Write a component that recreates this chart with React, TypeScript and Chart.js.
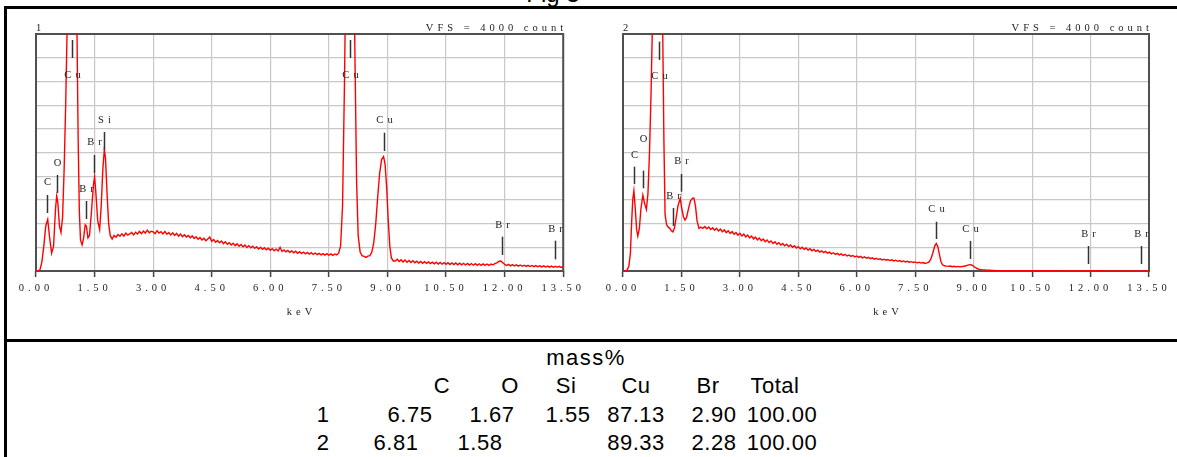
import React, { useEffect, useRef } from "react";
import { Chart, registerables } from "chart.js";
Chart.register(...registerables);

// ---------- data ----------
const xTicks = [0, 1.5, 3, 4.5, 6, 7.5, 9, 10.5, 12, 13.5];
const axisTitle = "keV";
const vfsText = "VFS = 4000 count";
const yMax = 4000;
const yStep = 400;

// spectrum 1: [keV, count]
const spectrum1: number[][] = [
  [0.0, 0], [0.05, 0], [0.1, 20], [0.15, 150], [0.2, 420], [0.25, 760], [0.3, 870], [0.35, 560], [0.4, 300],
  [0.45, 420], [0.5, 1050], [0.53, 1264], [0.56, 1150], [0.6, 760], [0.64, 650], [0.68, 900], [0.72, 1700],
  [0.76, 2800], [0.8, 4200], [0.85, 7000], [0.93, 9500], [1.0, 6500], [1.05, 4000], [1.08, 2200], [1.11, 1000],
  [1.14, 520], [1.18, 440], [1.22, 560], [1.26, 780], [1.29, 760], [1.33, 560], [1.37, 600], [1.42, 1000],
  [1.47, 1450], [1.5, 1590], [1.53, 1350], [1.58, 850], [1.63, 700], [1.67, 1100], [1.71, 1700], [1.75, 2050],
  [1.78, 1900], [1.82, 1300], [1.86, 800], [1.9, 600], [1.95, 540], [2.0, 600],
  [2.05, 570], [2.1, 615], [2.15, 585], [2.2, 628], [2.25, 590], [2.3, 640], [2.35, 605], [2.4, 625], [2.45, 650],
  [2.5, 610], [2.55, 655], [2.6, 625], [2.65, 668], [2.7, 630], [2.75, 675], [2.8, 640], [2.85, 690], [2.9, 645],
  [2.95, 672], [3.0, 660], [3.05, 630], [3.1, 680], [3.15, 640], [3.2, 665], [3.25, 625], [3.3, 668], [3.35, 620],
  [3.4, 650], [3.45, 610], [3.5, 645], [3.55, 600], [3.6, 635], [3.65, 590], [3.7, 625], [3.75, 580], [3.8, 612],
  [3.85, 575], [3.9, 600], [3.95, 560], [4.0, 592], [4.05, 548], [4.1, 578], [4.15, 535], [4.2, 565], [4.25, 525],
  [4.3, 552], [4.35, 510], [4.4, 540], [4.45, 575], [4.5, 500], [4.55, 530], [4.6, 485], [4.65, 515], [4.7, 475],
  [4.75, 505], [4.8, 462], [4.85, 492], [4.9, 450], [4.95, 478], [5.0, 440], [5.05, 470], [5.1, 428], [5.15, 458],
  [5.2, 418], [5.25, 448], [5.3, 408], [5.35, 438], [5.4, 398], [5.45, 428], [5.5, 390], [5.55, 418], [5.6, 382],
  [5.65, 410], [5.7, 372], [5.75, 400], [5.8, 365], [5.85, 392], [5.9, 358], [5.95, 385], [6.0, 350], [6.05, 378],
  [6.1, 343], [6.15, 370], [6.2, 338], [6.25, 400], [6.3, 330], [6.35, 356], [6.4, 322], [6.45, 348], [6.5, 315],
  [6.55, 340], [6.6, 308], [6.65, 334], [6.7, 300], [6.75, 326], [6.8, 295], [6.85, 320], [6.9, 290], [6.95, 314],
  [7.0, 285], [7.05, 308], [7.1, 280], [7.15, 303], [7.2, 276], [7.25, 298], [7.3, 272], [7.35, 294], [7.4, 268],
  [7.45, 292], [7.5, 266], [7.55, 290], [7.6, 265], [7.65, 288], [7.7, 272], [7.75, 300],
  [7.8, 420], [7.85, 1100], [7.9, 3200], [7.95, 6000], [8.04, 9000], [8.12, 6000], [8.17, 3500], [8.21, 1500],
  [8.25, 600], [8.3, 320], [8.35, 260], [8.4, 245], [8.45, 230], [8.5, 250], [8.55, 260], [8.6, 320], [8.65, 480],
  [8.7, 800], [8.75, 1250], [8.8, 1650], [8.85, 1880], [8.9, 1930], [8.94, 1800], [8.98, 1400], [9.02, 850],
  [9.06, 420], [9.1, 220], [9.15, 170],
  [9.2, 170], [9.25, 198], [9.3, 160], [9.35, 190], [9.4, 152], [9.45, 184], [9.5, 148], [9.55, 178], [9.6, 142],
  [9.65, 172], [9.7, 138], [9.75, 166], [9.8, 135], [9.85, 162], [9.9, 130], [9.95, 158], [10.0, 128], [10.05, 154],
  [10.1, 125], [10.15, 150], [10.2, 120], [10.25, 148], [10.3, 118], [10.35, 144], [10.4, 115], [10.45, 142],
  [10.5, 112], [10.55, 140], [10.6, 110], [10.65, 137], [10.7, 108], [10.75, 135], [10.8, 106], [10.85, 133],
  [10.9, 104], [10.95, 130], [11.0, 102], [11.05, 128], [11.1, 100], [11.15, 126], [11.2, 98], [11.25, 124],
  [11.3, 97], [11.35, 122], [11.4, 96], [11.45, 120], [11.5, 95], [11.55, 118], [11.6, 96], [11.65, 117],
  [11.7, 104], [11.75, 125], [11.8, 138], [11.85, 160], [11.9, 168], [11.95, 142], [12.0, 110], [12.05, 92],
  [12.1, 112], [12.15, 88], [12.2, 108], [12.25, 85], [12.3, 104], [12.35, 82], [12.4, 101], [12.45, 80],
  [12.5, 98], [12.55, 77], [12.6, 95], [12.65, 75], [12.7, 93], [12.75, 73], [12.8, 90], [12.85, 71], [12.9, 88],
  [12.95, 69], [13.0, 86], [13.05, 67], [13.1, 84], [13.15, 65], [13.2, 82], [13.25, 63], [13.3, 80], [13.35, 62],
  [13.4, 78], [13.45, 60], [13.5, 72],
];

// spectrum 2: [keV, count]
const spectrum2: number[][] = [
  [0.0, 0], [0.05, 0], [0.1, 10], [0.15, 80], [0.19, 300], [0.22, 800], [0.25, 1200], [0.28, 1354], [0.31, 1100],
  [0.35, 700], [0.38, 590], [0.42, 720], [0.46, 1050], [0.51, 1280], [0.55, 1150], [0.6, 1040], [0.64, 1300],
  [0.68, 2000], [0.72, 3000], [0.75, 4000], [0.82, 7500], [0.9, 9500], [0.97, 6500], [1.02, 4000], [1.05, 2200],
  [1.08, 950], [1.12, 780], [1.16, 740], [1.2, 720], [1.24, 680], [1.28, 660], [1.32, 720], [1.36, 880],
  [1.41, 1100], [1.47, 1225], [1.51, 1050], [1.55, 920], [1.59, 860], [1.63, 900], [1.68, 1050], [1.73, 1180],
  [1.78, 1225], [1.82, 1230], [1.86, 1100], [1.9, 850], [1.95, 720], [2.0, 740],
  [2.05, 720], [2.1, 752], [2.15, 712], [2.2, 742], [2.25, 700], [2.3, 730], [2.35, 688], [2.4, 720], [2.45, 676],
  [2.5, 708], [2.55, 662], [2.6, 694], [2.65, 648], [2.7, 680], [2.75, 634], [2.8, 664], [2.85, 620], [2.9, 650],
  [2.95, 604], [3.0, 636], [3.05, 590], [3.1, 622], [3.15, 574], [3.2, 606], [3.25, 558], [3.3, 590], [3.35, 542],
  [3.4, 572], [3.45, 526], [3.5, 556], [3.55, 510], [3.6, 540], [3.65, 494], [3.7, 524], [3.75, 480], [3.8, 508],
  [3.85, 464], [3.9, 492], [3.95, 450], [4.0, 478], [4.05, 438], [4.1, 464], [4.15, 424], [4.2, 452], [4.25, 412],
  [4.3, 438], [4.35, 400], [4.4, 426], [4.45, 388], [4.5, 412], [4.55, 376], [4.6, 400], [4.65, 364], [4.7, 388],
  [4.75, 352], [4.8, 376], [4.85, 342], [4.9, 364], [4.95, 330], [5.0, 352], [5.05, 320], [5.1, 340], [5.15, 310],
  [5.2, 330], [5.25, 300], [5.3, 318], [5.35, 290], [5.4, 308], [5.45, 280], [5.5, 298], [5.55, 272], [5.6, 288],
  [5.65, 262], [5.7, 280], [5.75, 254], [5.8, 270], [5.85, 246], [5.9, 262], [5.95, 238], [6.0, 254], [6.05, 230],
  [6.1, 246], [6.15, 222], [6.2, 238], [6.25, 215], [6.3, 230], [6.35, 208], [6.4, 222], [6.45, 201], [6.5, 215],
  [6.55, 194], [6.6, 208], [6.65, 188], [6.7, 200], [6.75, 182], [6.8, 194], [6.85, 176], [6.9, 188], [6.95, 170],
  [7.0, 182], [7.05, 164], [7.1, 176], [7.15, 158], [7.2, 170], [7.25, 153], [7.3, 164], [7.35, 148], [7.4, 158],
  [7.45, 143], [7.5, 153], [7.55, 138], [7.6, 148], [7.65, 133], [7.7, 143], [7.75, 128], [7.8, 138],
  [7.85, 150], [7.9, 200], [7.95, 300], [8.0, 420], [8.04, 465], [8.08, 410], [8.12, 280], [8.16, 160], [8.2, 105],
  [8.25, 88], [8.3, 82], [8.35, 78], [8.4, 84], [8.45, 72], [8.5, 80], [8.55, 70], [8.6, 78], [8.65, 70], [8.7, 76],
  [8.75, 80], [8.8, 88], [8.85, 100], [8.9, 108], [8.95, 102], [9.0, 80], [9.05, 55], [9.1, 38], [9.15, 28],
  [9.2, 22], [9.3, 16], [9.4, 12], [9.5, 9], [9.6, 7], [9.7, 6], [9.8, 5], [10.0, 4], [10.5, 3], [11.0, 3],
  [11.5, 2], [12.0, 3], [12.5, 2], [13.0, 2], [13.5, 2],
];

// element marker lines (energy, line top / bottom and label position in counts)
const markers1Labels = ["C", "O", "Cu", "Br", "Br", "Si", "Cu", "Cu", "Br", "Br"];
const markers1KeV = [0.277, 0.525, 0.93, 1.293, 1.48, 1.74, 8.04, 8.905, 11.924, 13.292];
const markers1Top = [1283, 1620, 3899, 1182, 1958, 2346, 3899, 2334, 579, 511];
const markers1Bottom = [979, 1317, 3595, 878, 1654, 2042, 3595, 2026, 270, 197];
const markers1LabelAt = [1490, 1823, 3308, 1384, 2166, 2537, 3308, 2537, 776, 709];

const markers2Labels = ["C", "O", "Cu", "Br", "Br", "Cu", "Cu", "Br", "Br"];
const markers2KeV = [0.277, 0.525, 0.93, 1.293, 1.48, 8.04, 8.905, 11.924, 13.292];
const markers2Top = [1761, 1693, 3871, 1063, 1637, 832, 506, 422, 422];
const markers2Bottom = [1469, 1396, 3562, 760, 1339, 540, 203, 118, 118];
const markers2LabelAt = [1958, 2220, 3292, 1254, 1845, 1041, 709, 625, 625];

// table
const tableTitle = "mass%";
const tableElements = ["C", "O", "Si", "Cu", "Br", "Total"];
const rowNames = ["1", "2"];
const row1 = ["6.75", "1.67", "1.55", "87.13", "2.90", "100.00"];
const row2 = ["6.81", "1.58", "", "89.33", "2.28", "100.00"];
const figTitle = "Fig 3";

// ---------- layout ----------
const SERIF = '"Liberation Serif", "Times New Roman", serif';
const SANS = '"Liberation Sans", Arial, sans-serif';
const titleCenter = 586;
const headerCenters = [442, 510, 566, 636, 708, 775];
const rowCenters = [
  [410, 492, 568, 636, 714, 782],
  [396, 480, 568, 636, 714, 782],
];
const rowNameCenter = 323;
const lineCenters = [358, 386, 415, 443];

function makeDecor(name: string, labels: string[], kev: number[], top: number[], bottom: number[], labelAt: number[]) {
  return {
    id: "decor" + name,
    beforeLayout(chart: any) {
      chart.ctx.letterSpacing = "4px";
    },
    beforeDraw(chart: any) {
      chart.ctx.letterSpacing = "4px";
    },
    beforeDatasetsDraw(chart: any) {
      const { ctx, chartArea: a } = chart;
      ctx.save();
      ctx.strokeStyle = "#505050";
      ctx.lineWidth = 2;
      ctx.strokeRect(a.left, a.top, a.right - a.left, a.bottom - a.top);
      ctx.restore();
    },
    afterDraw(chart: any) {
      const { ctx, chartArea: a, scales } = chart;
      const xs = scales.x;
      const ys = scales.y;
      ctx.save();
      ctx.letterSpacing = "4px";
      ctx.strokeStyle = "#333";
      ctx.lineWidth = 1.5;
      ctx.fillStyle = "#222";
      ctx.font = `10.5px ${SERIF}`;
      ctx.textAlign = "center";
      ctx.textBaseline = "middle";
      labels.forEach((lab, i) => {
        const px = Math.round(xs.getPixelForValue(kev[i])) + 0.5;
        ctx.beginPath();
        ctx.moveTo(px, ys.getPixelForValue(top[i]));
        ctx.lineTo(px, ys.getPixelForValue(bottom[i]));
        ctx.stroke();
        ctx.fillText(lab, px + 2, ys.getPixelForValue(labelAt[i]));
      });
      ctx.textBaseline = "alphabetic";
      ctx.textAlign = "left";
      ctx.fillText(name, a.left, a.top - 3);
      ctx.textAlign = "right";
      ctx.fillText(vfsText, a.right + 4, a.top - 3);
      ctx.textAlign = "center";
      ctx.fillText(axisTitle, (a.left + a.right) / 2 + 2, a.bottom + 44);
      ctx.restore();
    },
  };
}

function Spectrum(props: {
  name: string; left: number; width: number; padL: number; padR: number;
  spectrum: number[][];
  labels: string[]; mKeV: number[]; mTop: number[]; mBottom: number[]; mLabel: number[];
}) {
  const ref = useRef<HTMLCanvasElement | null>(null);
  useEffect(() => {
    if (!ref.current) return;
    const chart = new Chart(ref.current, {
      type: "line",
      data: {
        datasets: [
          {
            data: props.spectrum.map((p) => ({ x: p[0], y: p[1] })),
            borderColor: "#ff0000",
            borderWidth: 1.4,
            pointRadius: 0,
            fill: false,
            tension: 0,
          },
        ],
      },
      options: {
        animation: false,
        responsive: false,
        devicePixelRatio: 1,
        events: [],
        layout: { padding: { left: props.padL, right: props.padR, top: 34, bottom: 29 } },
        plugins: { legend: { display: false }, tooltip: { enabled: false } },
        scales: {
          x: {
            type: "linear",
            min: 0,
            max: 13.5,
            afterBuildTicks: (s: any) => {
              s.ticks = xTicks.map((v) => ({ value: v }));
            },
            afterFit: (s: any) => {
              s.height = 40;
            },
            grid: { color: "#c8c8c8", lineWidth: 1.2, tickColor: "#444", tickLength: 6, tickWidth: 1.5 },
            border: { display: false },
            ticks: {
              callback: (v: any) => Number(v).toFixed(2),
              font: { family: SERIF, size: 10.5 },
              color: "#222",
              padding: 5,
              maxRotation: 0,
              autoSkip: false,
            },
          },
          y: {
            min: 0,
            max: yMax,
            ticks: { display: false, stepSize: yStep },
            grid: { color: "#c8c8c8", lineWidth: 1.2, drawTicks: false },
            border: { display: false },
            afterFit: (s: any) => {
              s.width = 0;
            },
          },
        },
      } as any,
      plugins: [makeDecor(props.name, props.labels, props.mKeV, props.mTop, props.mBottom, props.mLabel)],
    });
    return () => chart.destroy();
  }, []);
  return (
    <canvas
      ref={ref}
      width={props.width}
      height={340}
      style={{ position: "absolute", left: props.left, top: 0, width: props.width, height: 340 }}
    />
  );
}

const textBase: React.CSSProperties = {
  position: "absolute",
  fontFamily: SANS,
  fontSize: 22,
  lineHeight: "24px",
  color: "#000",
  whiteSpace: "nowrap",
  letterSpacing: "0.5px",
};

export default function App() {
  const rows = [row1, row2];
  return (
    <div style={{ position: "absolute", left: 0, top: 0, width: 1177, height: 457, overflow: "hidden", background: "#fff" }}>
      <div style={{ ...textBase, fontSize: 24, left: 453, width: 200, textAlign: "center", top: -18, letterSpacing: 0 }}>
        {figTitle}
      </div>
      <div style={{ position: "absolute", left: 4, top: 6, width: 1173, height: 3, background: "#000" }} />
      <div style={{ position: "absolute", left: 4, top: 6, width: 3, height: 451, background: "#000" }} />
      <div style={{ position: "absolute", left: 4, top: 339, width: 1173, height: 3, background: "#000" }} />
      <Spectrum
        name="1" left={0} width={590} padL={36} padR={26}
        spectrum={spectrum1}
        labels={markers1Labels} mKeV={markers1KeV} mTop={markers1Top} mBottom={markers1Bottom} mLabel={markers1LabelAt}
      />
      <Spectrum
        name="2" left={590} width={587} padL={33} padR={28}
        spectrum={spectrum2}
        labels={markers2Labels} mKeV={markers2KeV} mTop={markers2Top} mBottom={markers2Bottom} mLabel={markers2LabelAt}
      />
      <div style={{ ...textBase, left: titleCenter - 100, width: 200, textAlign: "center", top: lineCenters[0] - 12, letterSpacing: "1.5px" }}>
        {tableTitle}
      </div>
      {tableElements.map((el, i) => (
        <div key={el} style={{ ...textBase, left: headerCenters[i] - 50, width: 100, textAlign: "center", top: lineCenters[1] - 12 }}>
          {el}
        </div>
      ))}
      {rows.map((row, r) => (
        <React.Fragment key={r}>
          <div style={{ ...textBase, left: rowNameCenter - 20, width: 40, textAlign: "center", top: lineCenters[2 + r] - 12 }}>
            {rowNames[r]}
          </div>
          {row.map((v, i) =>
            v ? (
              <div key={i} style={{ ...textBase, left: rowCenters[r][i] - 60, width: 120, textAlign: "center", top: lineCenters[2 + r] - 12 }}>
                {v}
              </div>
            ) : null
          )}
        </React.Fragment>
      ))}
    </div>
  );
}
